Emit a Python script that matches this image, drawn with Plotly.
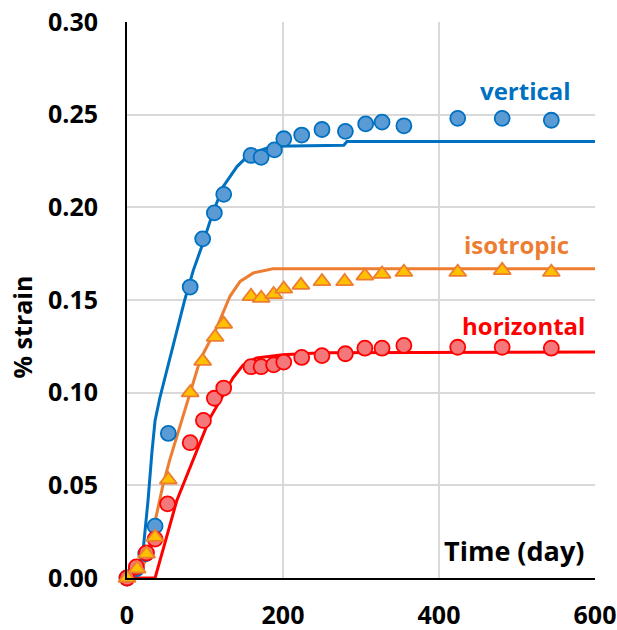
import plotly.graph_objects as go

# ---- measured data (day, % strain) ----
vert_t = [0, 12, 24, 36, 53, 81, 97, 112, 124, 159, 172, 189, 201, 224, 250, 280, 306, 327, 355, 424, 481, 544]
vert_v = [0.000, 0.005, 0.013, 0.028, 0.078, 0.157, 0.183, 0.197, 0.207, 0.228, 0.227, 0.231, 0.237, 0.239, 0.242, 0.241, 0.245, 0.246, 0.244, 0.248, 0.248, 0.247]

iso_t = [0, 13, 25, 36, 53, 81, 97, 113, 124, 159, 172, 188, 201, 223, 250, 279, 305, 327, 355, 424, 481, 544]
iso_v = [0.000, 0.005, 0.013, 0.022, 0.053, 0.100, 0.117, 0.130, 0.137, 0.152, 0.151, 0.153, 0.156, 0.158, 0.160, 0.160, 0.163, 0.164, 0.165, 0.165, 0.166, 0.165]

hor_t = [0, 12, 25, 36, 52, 81, 98, 112, 124, 159, 172, 188, 201, 224, 250, 280, 305, 327, 355, 424, 481, 544]
hor_v = [0.000, 0.006, 0.0135, 0.021, 0.040, 0.073, 0.085, 0.097, 0.1025, 0.114, 0.114, 0.115, 0.1165, 0.119, 0.120, 0.121, 0.124, 0.124, 0.1255, 0.1245, 0.1245, 0.124]

# model curves
vert_fit_t = [0, 12, 20, 27, 32, 36, 42, 55, 74, 85, 96, 110, 123, 141, 158, 187, 278, 282, 600]
vert_fit_v = [0.000, 0.003, 0.012, 0.042, 0.068, 0.085, 0.097, 0.118, 0.150, 0.166, 0.179, 0.197, 0.211, 0.222, 0.229, 0.233, 0.2335, 0.2355, 0.2355]

iso_fit_t = [0, 15, 26, 36, 46, 55, 81, 94, 115, 132, 145, 162, 187, 600]
iso_fit_v = [0.000, 0.003, 0.011, 0.030, 0.050, 0.064, 0.100, 0.118, 0.135, 0.152, 0.160, 0.1646, 0.1668, 0.1668]

hor_fit_t = [0, 36, 64, 106, 136, 149, 166, 200, 250, 600]
hor_fit_v = [0.000, 0.000, 0.042, 0.086, 0.108, 0.115, 0.1187, 0.1205, 0.1215, 0.122]

x_ticks = [0, 200, 400, 600]
y_ticks = [0.00, 0.05, 0.10, 0.15, 0.20, 0.25, 0.30]

BLUE = "#0070C0"
ORANGE = "#ED7D31"
RED = "#FF0000"
FONT = "Open Sans"

fig = go.Figure()

fig.add_trace(go.Scatter(x=vert_fit_t, y=vert_fit_v, mode="lines",
                         line=dict(color=BLUE, width=3), hoverinfo="skip"))
fig.add_trace(go.Scatter(x=iso_fit_t, y=iso_fit_v, mode="lines",
                         line=dict(color=ORANGE, width=3), hoverinfo="skip"))
fig.add_trace(go.Scatter(x=hor_fit_t, y=hor_fit_v, mode="lines",
                         line=dict(color=RED, width=3), hoverinfo="skip"))

fig.add_trace(go.Scatter(x=vert_t, y=vert_v, mode="markers", name="vertical", cliponaxis=False,
                         marker=dict(symbol="circle", size=15, color="#5B9BD5",
                                     line=dict(color=BLUE, width=1.8))))
fig.add_trace(go.Scatter(x=hor_t, y=hor_v, mode="markers", name="horizontal", cliponaxis=False,
                         marker=dict(symbol="circle", size=15, color="#F4777A",
                                     line=dict(color=RED, width=1.8))))
fig.add_trace(go.Scatter(x=iso_t, y=iso_v, mode="markers", name="isotropic", cliponaxis=False,
                         marker=dict(symbol="triangle-up", size=15, color="#FFC000",
                                     line=dict(color=ORANGE, width=1.8))))

def lab(text, x, y, color, size):
    fig.add_annotation(x=x, y=y, xref="x", yref="y", text=text, showarrow=False,
                       xanchor="center", yanchor="middle",
                       font=dict(family=FONT, size=size, color=color, weight="bold"))

lab("vertical", 511, 0.263, BLUE, 24)
lab("isotropic", 499, 0.180, ORANGE, 24)
lab("horizontal", 508, 0.1365, RED, 24)
lab("Time (day)", 496, 0.0146, "black", 27)

fig.add_annotation(x=-0.224, y=0.451, xref="paper", yref="paper", text="% strain",
                   textangle=-90, showarrow=False, xanchor="center", yanchor="middle",
                   borderpad=0,
                   font=dict(family=FONT, size=25, color="black", weight="bold"))

fig.update_layout(
    width=617, height=630,
    margin=dict(l=127, r=22, t=22, b=52),
    paper_bgcolor="white", plot_bgcolor="white",
    showlegend=False,
    font=dict(family=FONT, color="black"),
)
fig.update_xaxes(range=[0, 600], tickvals=x_ticks, ticktext=[str(v) for v in x_ticks],
                 showgrid=True, gridcolor="#D9D9D9", gridwidth=1.5,
                 showline=True, linecolor="black", linewidth=2, zeroline=False,
                 tickfont=dict(family=FONT, size=25, color="black", weight="bold"),
                 ticks="", ticklabelstandoff=14, automargin=False)
fig.update_yaxes(range=[0, 0.30], tickvals=y_ticks, tickformat=".2f",
                 showgrid=True, gridcolor="#D9D9D9", gridwidth=1.5,
                 showline=True, linecolor="black", linewidth=2, zeroline=False,
                 tickfont=dict(family=FONT, size=25, color="black", weight="bold"),
                 ticks="", ticklabelstandoff=22, automargin=False)

# remove the browser's default 8px body margin so the figure sits at the page origin
fig.write_html("out.html", config={"displayModeBar": False},
               post_script="document.body.style.margin='0';document.body.style.overflow='hidden';")
